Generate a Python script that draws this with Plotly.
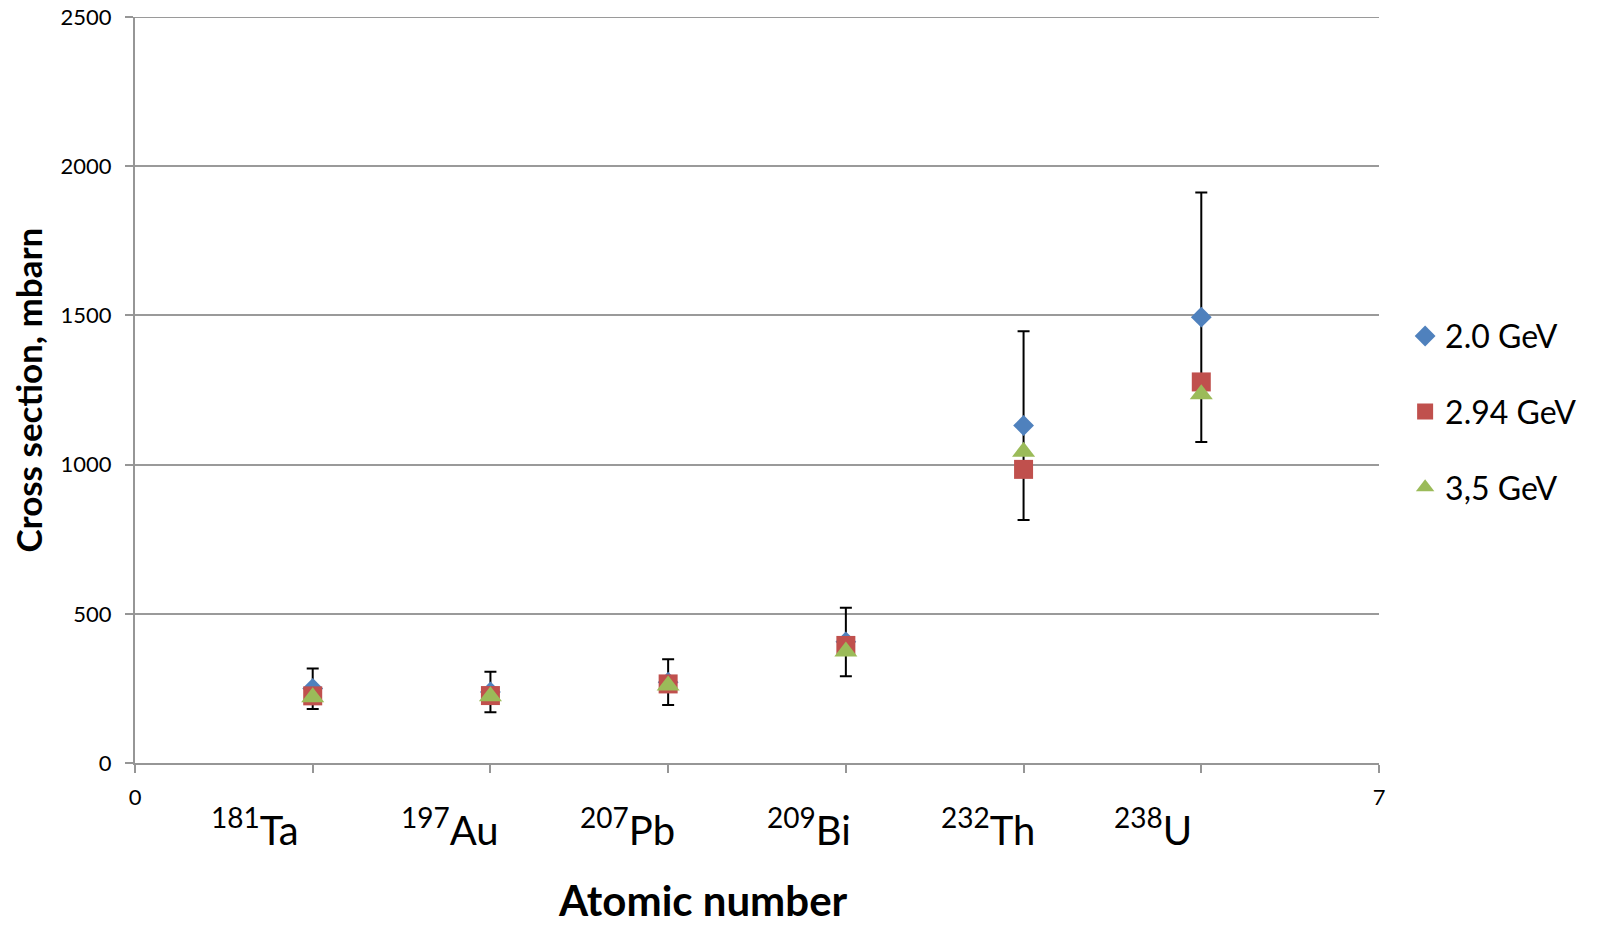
import plotly.graph_objects as go

# Data
x_pos = [1, 2, 3, 4, 5, 6]
isotopes = ["<sup>181</sup>Ta", "<sup>197</sup>Au", "<sup>207</sup>Pb",
            "<sup>209</sup>Bi", "<sup>232</sup>Th", "<sup>238</sup>U"]
series_names = ["2.0 GeV", "2.94 GeV", "3,5 GeV"]
cs_2_0 = [250, 238, 271, 406, 1131, 1494]
cs_2_94 = [225, 226, 265, 394, 984, 1277]
cs_3_5 = [220, 224, 260, 374, 1043, 1236]
err_plus = [67, 68, 77, 114, 316, 418]
err_minus = [69, 68, 77, 115, 317, 418]

# Layout: where the isotope labels sit along the x axis (label text box centres)
label_centers = [0.674, 1.774, 2.772, 3.792, 4.801, 5.730]

FONT = "Lato"
colors = ["#4F81BD", "#C0504D", "#9BBB59"]
AXIS_GRAY = "#969696"

fig = go.Figure()
fig.add_trace(go.Scatter(
    x=x_pos, y=cs_2_0, mode="markers", name=series_names[0], legendgroup="a",
    marker=dict(symbol="diamond", size=16, color=colors[0]),
    error_y=dict(type="data", array=err_plus, arrayminus=err_minus,
                 color="black", thickness=2, width=6, visible=True)))
fig.add_trace(go.Scatter(
    x=x_pos, y=cs_2_94, mode="markers", name=series_names[1], legendgroup="b",
    marker=dict(symbol="square", size=19, color=colors[1])))
fig.add_trace(go.Scatter(
    x=x_pos, y=cs_3_5, mode="markers", name=series_names[2], legendgroup="c",
    marker=dict(symbol="triangle-up", size=20, color=colors[2])))

annotations = []
for xc, lab in zip(label_centers, isotopes):
    annotations.append(dict(x=xc, xref="x", y=-0.086, yref="paper", text=lab,
                            showarrow=False, xanchor="center", yanchor="middle",
                            font=dict(family=FONT, size=40, color="black")))
annotations.append(dict(x=0.4566, xref="paper", y=-0.2195, yref="paper",
                        text="<b>Atomic number</b>", showarrow=False,
                        xanchor="center", yanchor="bottom",
                        font=dict(family=FONT, size=42, color="black")))
annotations.append(dict(x=-0.0864, xref="paper", y=0.5, yref="paper",
                        text="<b>Cross section, mbarn</b>", showarrow=False,
                        textangle=-90, xanchor="center", yanchor="middle",
                        font=dict(family=FONT, size=35, color="black")))

fig.update_layout(
    width=1598, height=927,
    margin=dict(l=135, r=219, t=17, b=164),
    paper_bgcolor="white", plot_bgcolor="white",
    font=dict(family=FONT, color="black"),
    showlegend=True,
    legend=dict(x=1.021, y=0.609, xanchor="left", yanchor="top",
                font=dict(family=FONT, size=32, color="black"),
                traceorder="grouped", tracegroupgap=31,
                bgcolor="rgba(0,0,0,0)"),
    annotations=annotations,
    shapes=[dict(type="line", xref="paper", yref="y", x0=0, x1=1, y0=2500, y1=2500,
                 line=dict(color="#9a9a9a", width=2), layer="below")],
    xaxis=dict(range=[0, 7], tickvals=[0, 1, 2, 3, 4, 5, 6, 7],
               ticktext=["0", "", "", "", "", "", "", "7"],
               showgrid=False, zeroline=False, showline=True, automargin=False,
               linecolor=AXIS_GRAY, linewidth=2,
               ticks="outside", ticklen=8, tickwidth=2, tickcolor=AXIS_GRAY,
               ticklabelstandoff=6,
               tickfont=dict(family=FONT, size=22, color="black")),
    yaxis=dict(range=[0, 2500], tickvals=[0, 500, 1000, 1500, 2000, 2500],
               showgrid=True, gridcolor="#9a9a9a", gridwidth=2,
               zeroline=False, showline=True, automargin=False,
               linecolor=AXIS_GRAY, linewidth=2,
               ticks="outside", ticklen=8, tickwidth=2, tickcolor=AXIS_GRAY,
               ticklabelstandoff=9,
               tickfont=dict(family=FONT, size=22, color="black")),
)

fig.write_html("out.html")
